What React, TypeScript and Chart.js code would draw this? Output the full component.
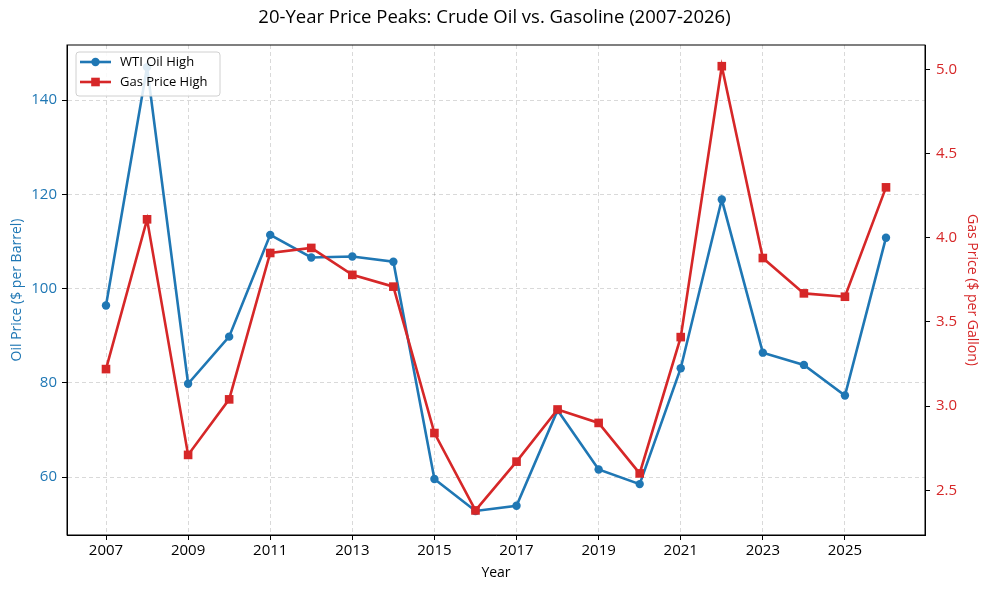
import { useEffect, useRef } from "react";
import { Chart, registerables } from "chart.js";

Chart.register(...registerables);

const years = [
  2007, 2008, 2009, 2010, 2011, 2012, 2013, 2014, 2015, 2016, 2017, 2018, 2019,
  2020, 2021, 2022, 2023, 2024, 2025, 2026,
];
const oilHigh = [
  96.4, 147.0, 79.8, 89.8, 111.4, 106.6, 106.8, 105.7, 59.6, 52.8, 53.9, 74.2,
  61.6, 58.5, 83.1, 118.9, 86.4, 83.8, 77.3, 110.8,
];
const gasHigh = [
  3.22, 4.11, 2.71, 3.04, 3.91, 3.94, 3.78, 3.71, 2.84, 2.38, 2.67, 2.98, 2.9,
  2.6, 3.41, 5.02, 3.88, 3.67, 3.65, 4.3,
];
const yearTicks = [2007, 2009, 2011, 2013, 2015, 2017, 2019, 2021, 2023, 2025];
const oilTicks = [60, 80, 100, 120, 140];
const gasTicks = [2.5, 3.0, 3.5, 4.0, 4.5, 5.0];

const BLUE = "#1f77b4";
const RED = "#d62728";
const FONT = "'Open Sans', 'Noto Sans', sans-serif";

const frameAndTitle = {
  id: "frameAndTitle",
  afterDatasetsDraw(chart: any) {
    const { ctx, chartArea: a, width } = chart;
    ctx.save();
    ctx.strokeStyle = "#000";
    ctx.lineWidth = 1;
    ctx.strokeRect(a.left, a.top, a.right - a.left, a.bottom - a.top);

    ctx.fillStyle = "#000";
    ctx.font = `18.5px ${FONT}`;
    ctx.textAlign = "center";
    ctx.textBaseline = "middle";
    ctx.fillText(
      "20-Year Price Peaks: Crude Oil vs. Gasoline (2007-2026)",
      width / 2,
      18
    );

    // legend box
    const bx = a.left + 9;
    const by = a.top + 7;
    const bw = 144;
    const bh = 44;
    ctx.fillStyle = "rgba(255,255,255,0.85)";
    ctx.strokeStyle = "#d0d0d0";
    ctx.lineWidth = 1;
    ctx.beginPath();
    ctx.roundRect(bx, by, bw, bh, 3);
    ctx.fill();
    ctx.stroke();

    const rows = [
      { label: "WTI Oil High", color: BLUE, square: false },
      { label: "Gas Price High", color: RED, square: true },
    ];
    rows.forEach((r, i) => {
      const cy = by + 10 + i * 20;
      ctx.strokeStyle = r.color;
      ctx.lineWidth = 2.6;
      ctx.beginPath();
      ctx.moveTo(bx + 4, cy);
      ctx.lineTo(bx + 35, cy);
      ctx.stroke();
      ctx.fillStyle = r.color;
      if (r.square) {
        ctx.fillRect(bx + 19.5 - 4.3, cy - 4.3, 8.6, 8.6);
      } else {
        ctx.beginPath();
        ctx.arc(bx + 19.5, cy, 4.2, 0, Math.PI * 2);
        ctx.fill();
      }
      ctx.fillStyle = "#000";
      ctx.font = `13px ${FONT}`;
      ctx.textAlign = "left";
      ctx.fillText(r.label, bx + 44, cy);
    });
    ctx.restore();
  },
};

const App = () => {
  const canvasRef = useRef<HTMLCanvasElement>(null);

  useEffect(() => {
    document.body.style.margin = "0";
    if (!canvasRef.current) return;

    const chart = new Chart(canvasRef.current, {
      type: "line",
      data: {
        datasets: [
          {
            label: "WTI Oil High",
            data: years.map((y, i) => ({ x: y, y: oilHigh[i] })),
            yAxisID: "y",
            borderColor: BLUE,
            backgroundColor: BLUE,
            borderWidth: 2.6,
            pointStyle: "circle",
            pointRadius: 4.2,
            pointBorderWidth: 0,
            tension: 0,
            order: 2,
          },
          {
            label: "Gas Price High",
            data: years.map((y, i) => ({ x: y, y: gasHigh[i] })),
            yAxisID: "y1",
            borderColor: RED,
            backgroundColor: RED,
            borderWidth: 2.6,
            pointStyle: "rect",
            pointRadius: 6.1,
            pointBorderWidth: 0,
            tension: 0,
            order: 1,
          },
        ],
      },
      options: {
        animation: false,
        responsive: false,
        layout: { padding: { top: 45 } },
        plugins: {
          legend: { display: false },
          tooltip: { enabled: false },
          title: { display: false },
        },
        scales: {
          x: {
            type: "linear",
            min: 2006.05,
            max: 2026.95,
            afterBuildTicks: (s: any) => {
              s.ticks = yearTicks.map((v) => ({ value: v }));
            },
            afterFit: (s: any) => {
              s.height = 55;
            },
            ticks: {
              color: "#000",
              font: { family: FONT, size: 15 },
              padding: 2,
              maxRotation: 0,
              callback: (v: any) => String(v),
            },
            grid: {
              color: "rgba(0,0,0,0.15)",
              tickColor: "#000",
              tickLength: 5,
            },
            border: { color: "#000", dash: [4, 3] },
            title: {
              display: true,
              text: "Year",
              color: "#000",
              font: { family: FONT, size: 14 },
              padding: { top: 9, bottom: 9 },
            },
          },
          y: {
            position: "left",
            min: 47.7,
            max: 151.7,
            afterBuildTicks: (s: any) => {
              s.ticks = oilTicks.map((v) => ({ value: v }));
            },
            afterFit: (s: any) => {
              s.width = 67;
            },
            ticks: {
              color: BLUE,
              font: { family: FONT, size: 15 },
              padding: 5,
              callback: (v: any) => String(v),
            },
            grid: {
              color: "rgba(0,0,0,0.15)",
              tickColor: "#000",
              tickLength: 5,
            },
            border: { color: "#000", dash: [4, 3] },
            title: {
              display: true,
              text: "Oil Price ($ per Barrel)",
              color: BLUE,
              font: { family: FONT, size: 14 },
              padding: { top: 9, bottom: 9 },
            },
          },
          y1: {
            position: "right",
            min: 2.234,
            max: 5.146,
            afterBuildTicks: (s: any) => {
              s.ticks = gasTicks.map((v) => ({ value: v }));
            },
            afterFit: (s: any) => {
              s.width = 64;
            },
            ticks: {
              color: RED,
              font: { family: FONT, size: 15 },
              padding: 6,
              callback: (v: any) => Number(v).toFixed(1),
            },
            grid: {
              drawOnChartArea: false,
              tickColor: "#000",
              tickLength: 5,
            },
            border: { color: "#000" },
            title: {
              display: true,
              text: "Gas Price ($ per Gallon)",
              color: RED,
              font: { family: FONT, size: 14 },
              padding: { top: 9, bottom: 9 },
            },
          },
        },
      },
      plugins: [frameAndTitle],
    });

    return () => chart.destroy();
  }, []);

  return <canvas ref={canvasRef} width={989} height={590}></canvas>;
};

export default App;
